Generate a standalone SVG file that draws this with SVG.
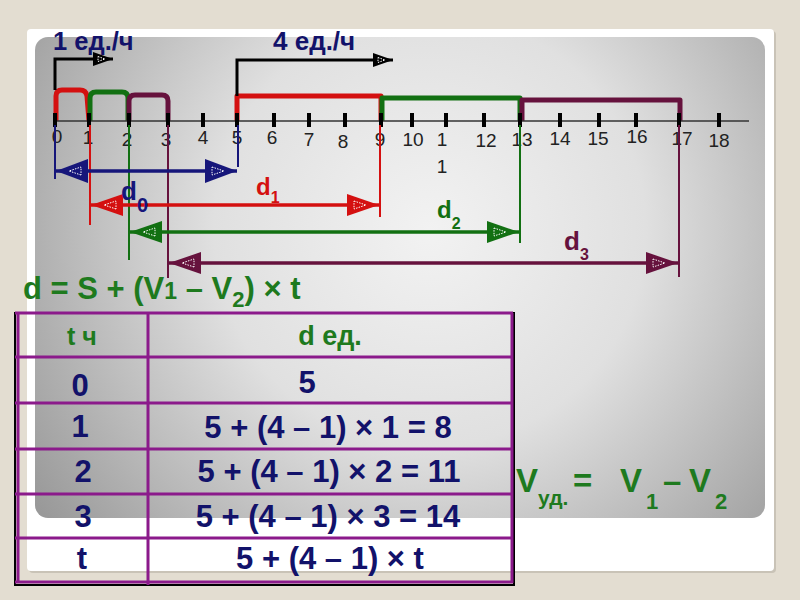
<svg xmlns="http://www.w3.org/2000/svg" width="800" height="600" viewBox="0 0 800 600">
<defs>
<radialGradient id="pg" gradientUnits="userSpaceOnUse" cx="430" cy="230" r="480">
<stop offset="0" stop-color="#f2f2f2"/>
<stop offset="0.45" stop-color="#e0e0e0"/>
<stop offset="1" stop-color="#999999"/>
</radialGradient>
<marker id="aN" markerUnits="userSpaceOnUse" viewBox="0 -12 32 24" markerWidth="32" markerHeight="24" refX="32" refY="0" orient="auto-start-reverse"><path d="M0,-12 L32,0 L0,12 Z" fill="#16167a"/><path class="in" d="M7,-4 L19,0 L7,4 Z"/></marker>
<marker id="aR" markerUnits="userSpaceOnUse" viewBox="0 -12 32 24" markerWidth="32" markerHeight="24" refX="32" refY="0" orient="auto-start-reverse"><path d="M0,-11 L32,0 L0,11 Z" fill="#d41010"/><path class="in" d="M7,-4 L19,0 L7,4 Z"/></marker>
<marker id="aG" markerUnits="userSpaceOnUse" viewBox="0 -12 32 24" markerWidth="32" markerHeight="24" refX="32" refY="0" orient="auto-start-reverse"><path d="M0,-11 L32,0 L0,11 Z" fill="#127012"/><path class="in" d="M7,-4 L19,0 L7,4 Z"/></marker>
<marker id="aM" markerUnits="userSpaceOnUse" viewBox="0 -12 32 24" markerWidth="32" markerHeight="24" refX="32" refY="0" orient="auto-start-reverse"><path d="M0,-11 L32,0 L0,11 Z" fill="#66123d"/><path class="in" d="M7,-4 L19,0 L7,4 Z"/></marker>
<marker id="aK" markerUnits="userSpaceOnUse" viewBox="0 -8 20 16" markerWidth="20" markerHeight="16" refX="20" refY="0" orient="auto"><path d="M0,-7 L20,0 L0,7 Z" fill="#000"/><path class="in" d="M5,-2.5 L12,0 L5,2.5 Z"/></marker>
</defs>
<style>
.in{fill:none;stroke:#fff;stroke-width:1;stroke-dasharray:1.5 1.2}
.num{font-family:"Liberation Sans",Arial,sans-serif;font-size:19px;fill:#222;text-anchor:middle}
.tk{fill:#000}
.br{fill:none;stroke-width:5;stroke-linejoin:round}
.ext{stroke-width:2;fill:none}
.dl{stroke-width:3.5;fill:none}
.b{font-family:"Liberation Sans",Arial,sans-serif;font-weight:bold}
.navy{fill:#16167a}
.red{fill:#d41010}
.green{fill:#127012}
.maroon{fill:#66123d}
.tg{fill:#1e7a1e}
.tn{fill:#12126a}
.pl{stroke:#8b1a8b;stroke-width:3;fill:none}
</style>
<rect x="0" y="0" width="800" height="600" fill="#e3ddd1"/>
<rect x="29" y="31" width="747" height="542" rx="4" fill="#c9c3b7"/>
<rect x="27" y="29" width="747" height="542" rx="4" fill="#ffffff"/>
<rect x="35" y="37" width="730" height="481" rx="13" fill="url(#pg)"/>

<g id="labels-top" class="b">
<text x="53" y="50" font-size="25.5" class="tn">1 ед./ч</text>
<text x="273" y="50" font-size="26" class="tn">4 ед./ч</text>
</g>

<g id="brackets">
<path class="br" stroke="#d41010" d="M56,121 V96 Q56,90 62,90 H80 Q86,90 87,96 L89,121"/>
<path class="br" stroke="#127012" d="M90,121 V98 Q90,92 96,92 H122 Q128,92 128,98 V121"/>
<path class="br" stroke="#66123d" d="M129,121 V101 Q129,95 135,95 H162 Q168,95 168,101 V121"/>
<path class="br" stroke="#d41010" stroke-linejoin="miter" d="M237,121 V96 H381 V121"/>
<path class="br" stroke="#127012" stroke-linejoin="miter" d="M382,121 V98 H520 V121"/>
<path class="br" stroke="#66123d" stroke-linejoin="miter" d="M522,121 V100 H680 V121"/>
</g>

<g id="axis">
<line x1="53" y1="121" x2="749" y2="121" stroke="#333" stroke-width="1.5"/>
<g class="tk">
<rect x="53" y="113" width="4" height="14"/><rect x="87" y="113" width="4" height="14"/><rect x="127" y="113" width="4" height="14"/><rect x="166" y="113" width="4" height="14"/><rect x="201" y="113" width="4" height="14"/><rect x="235" y="113" width="4" height="14"/><rect x="272" y="113" width="4" height="14"/><rect x="307" y="113" width="4" height="14"/><rect x="343" y="113" width="4" height="14"/><rect x="379" y="113" width="4" height="14"/><rect x="410" y="113" width="4" height="14"/><rect x="444" y="113" width="4" height="14"/><rect x="482" y="113" width="4" height="14"/><rect x="518" y="113" width="4" height="14"/><rect x="558" y="113" width="4" height="14"/><rect x="597" y="113" width="4" height="14"/><rect x="634" y="113" width="4" height="14"/><rect x="677" y="113" width="4" height="14"/><rect x="717" y="113" width="4" height="14"/>
</g>
<g>
<text class="num" x="57" y="143">0</text><text class="num" x="88" y="144">1</text><text class="num" x="127" y="146">2</text><text class="num" x="166" y="146">3</text><text class="num" x="203" y="144">4</text><text class="num" x="237" y="144">5</text><text class="num" x="272" y="144">6</text><text class="num" x="309" y="146">7</text><text class="num" x="343" y="148">8</text><text class="num" x="380" y="146">9</text><text class="num" x="413" y="146">10</text><text class="num" x="442" y="146">1</text><text class="num" x="442" y="173">1</text><text class="num" x="486" y="147">12</text><text class="num" x="522" y="146">13</text><text class="num" x="560" y="145">14</text><text class="num" x="598" y="145">15</text><text class="num" x="637" y="143">16</text><text class="num" x="682" y="145">17</text><text class="num" x="719" y="147">18</text>
</g>
</g>

<g id="connectors">
<path d="M55,90 V59 H113" stroke="#000" stroke-width="3" fill="none" marker-end="url(#aK)"/>
<path d="M237,96 V60 H393" stroke="#000" stroke-width="3" fill="none" marker-end="url(#aK)"/>
<line class="ext" stroke="#16167a" x1="55" y1="125" x2="55" y2="179"/>
<line class="ext" stroke="#16167a" x1="238" y1="125" x2="238" y2="167"/>
<line class="ext" stroke="#d41010" x1="90" y1="125" x2="90" y2="225"/>
<line class="ext" stroke="#d41010" x1="380" y1="125" x2="380" y2="217"/>
<line class="ext" stroke="#127012" x1="129" y1="125" x2="129" y2="260"/>
<line class="ext" stroke="#127012" x1="520" y1="125" x2="520" y2="243"/>
<line class="ext" stroke="#66123d" x1="168" y1="125" x2="168" y2="278"/>
<line class="ext" stroke="#66123d" x1="679" y1="125" x2="679" y2="277"/>
<line class="dl" stroke="#16167a" stroke-width="4" x1="56" y1="171" x2="237" y2="171" marker-start="url(#aN)" marker-end="url(#aN)"/>
<line class="dl" stroke="#d41010" x1="91" y1="205" x2="379" y2="205" marker-start="url(#aR)" marker-end="url(#aR)"/>
<line class="dl" stroke="#127012" x1="130" y1="232" x2="519" y2="232" marker-start="url(#aG)" marker-end="url(#aG)"/>
<line class="dl" stroke="#66123d" x1="169" y1="263" x2="678" y2="263" marker-start="url(#aM)" marker-end="url(#aM)"/>
</g>

<g id="d-labels" class="b">
<text x="121" y="200" font-size="26" class="navy">d<tspan font-size="20" dy="12">0</tspan></text>
<text x="256" y="195" font-size="24" class="red">d<tspan font-size="16" dy="8">1</tspan></text>
<text x="437" y="218" font-size="24" class="green">d<tspan font-size="16" dy="11">2</tspan></text>
<text x="564" y="250" font-size="26" class="maroon">d<tspan font-size="16" dy="10">3</tspan></text>
</g>

<g id="formula" class="b">
<text x="23" y="299" font-size="31" class="tg">d = S + (V<tspan font-size="23">1</tspan> – V<tspan font-size="22" dy="8">2</tspan><tspan dy="-8">) × t</tspan></text>
</g>

<g id="table">
<path d="M15,312 V585 H514 V312" stroke="#000" stroke-width="2" fill="none"/>
<path class="pl" d="M15,313 H513 M15,357 H513 M15,403 H513 M15,449 H513 M15,494 H513 M15,538 H513 M15,582 H513 M148,313 V585 M512,313 V583 M18,313 V583"/>
<g class="b" text-anchor="middle">
<text x="82" y="345" font-size="25" class="tg">t ч</text>
<text x="330" y="345" font-size="27" class="tg">d ед.</text>
<text x="80" y="396" font-size="31" class="tn">0</text>
<text x="307" y="393" font-size="31" class="tn">5</text>
<text x="80" y="437" font-size="31" class="tn">1</text>
<text x="328" y="438" font-size="31" class="tn">5 + (4 – 1) × 1 = 8</text>
<text x="83" y="482" font-size="31" class="tn">2</text>
<text x="329" y="482" font-size="31" class="tn">5 + (4 – 1) × 2 = 11</text>
<text x="83" y="527" font-size="31" class="tn">3</text>
<text x="328" y="527" font-size="31" class="tn">5 + (4 – 1) × 3 = 14</text>
<text x="82" y="569" font-size="31" class="tn">t</text>
<text x="330" y="569" font-size="31" class="tn">5 + (4 – 1) × t</text>
</g>
</g>

<g id="v-formula" class="b tg">
<text x="516" y="492" font-size="33">V<tspan font-size="21" dy="13">уд.</tspan><tspan x="573" dy="-13">=</tspan><tspan x="620">V</tspan><tspan x="646" font-size="22" dy="17">1</tspan><tspan x="663" dy="-17">–</tspan><tspan x="689">V</tspan><tspan x="715" font-size="22" dy="17">2</tspan></text>
</g>
</svg>
